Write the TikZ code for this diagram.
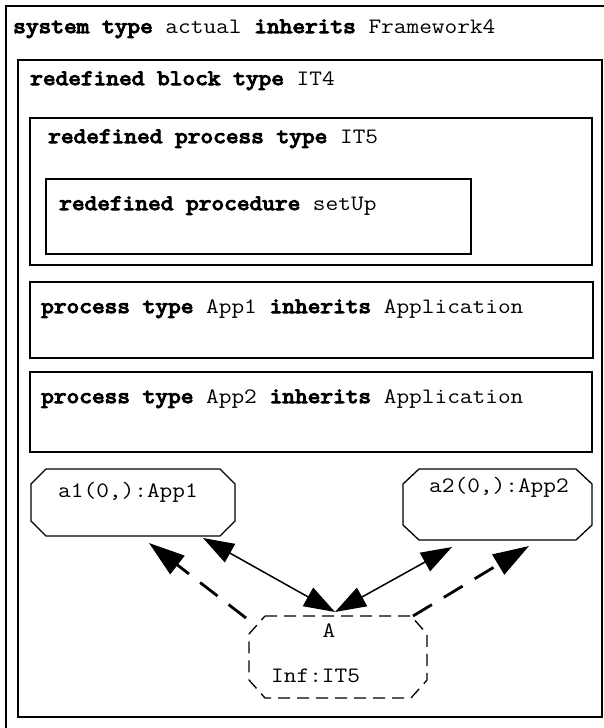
\documentclass[tikz,border=0pt]{standalone}
\usepackage{fontspec}
\newfontfamily\cour{Latin Modern Mono}[FakeStretch=1.12, BoldFont={Latin Modern Mono}, BoldFeatures={FakeBold=5}]
\usetikzlibrary{arrows.meta}
\begin{document}
\begin{tikzpicture}[x=1pt,y=-1pt,
  txt/.style={anchor=base west, inner sep=0pt, font=\cour\fontsize{22}{25}\selectfont},
  ctxt/.style={anchor=base, inner sep=0pt, font=\cour\fontsize{22}{25}\selectfont},
  boxline/.style={draw=black, line width=1.3pt},
  dbox/.style={draw=black, line width=1.3pt, dash pattern=on 12pt off 7pt},
  solidarrow/.style={line width=1.5pt, {Triangle[length=31pt,width=21pt]}-{Triangle[length=31pt,width=21pt]}},
  dasharrow/.style={line width=2.8pt, dash pattern=on 22pt off 14pt, -{Triangle[length=36pt,width=23pt]}}
]
\useasboundingbox (0,0) rectangle (604,728);
% outer system frame (clipped at right and bottom)
\draw[boxline] (6,740) -- (6,6) -- (620,6);
\node[txt] (sys) at (13,33) {\textbf{system type} actual \textbf{inherits} Framework4};
% block IT4
\draw[boxline] (18,60) rectangle (602,717);
\node[txt] (blk) at (30,85) {\textbf{redefined block type} IT4};
% process type IT5
\draw[boxline] (30,118) rectangle (592,265);
\node[txt] (pit5) at (48,143) {\textbf{redefined process type} IT5};
% procedure
\draw[boxline] (46,179) rectangle (471,254);
\node[txt] (proc) at (59,210) {\textbf{redefined procedure} setUp};
% App1 / App2 types
\draw[boxline] (30,282) rectangle (593,358);
\node[txt] (app1t) at (41,313) {\textbf{process type} App1 \textbf{inherits} Application};
\draw[boxline] (30,372) rectangle (592,452);
\node[txt] (app2t) at (41,403) {\textbf{process type} App2 \textbf{inherits} Application};
% instance a1
\draw[boxline] (46,469) -- (220,469) -- (235,484) -- (235,521) -- (220,536) -- (46,536) -- (31,521) -- (31,484) -- cycle;
\node[txt] (a1) at (58,497) {a1(0,):App1};
% instance a2
\draw[boxline] (419,469) -- (576,469) -- (592,484) -- (592,525) -- (576,540) -- (419,540) -- (403,525) -- (403,484) -- cycle;
\node[txt] (a2) at (429,492) {a2(0,):App2};
% instance Inf (dashed)
\draw[dbox] (265,616) -- (411,616) -- (427,634) -- (427,680) -- (411,698) -- (265,698) -- (249,680) -- (249,634) -- cycle;
\node[ctxt] (A) at (329,637) {A};
\node[txt] (inf) at (271,682) {Inf:IT5};
% connector end points
\coordinate (a1end) at (203,538);
\coordinate (a2end) at (452,547);
\coordinate (Atip) at (335,612);
\coordinate (dl0) at (246,618);
\coordinate (dl1) at (149,543);
\coordinate (dr0) at (413,616);
\coordinate (dr1) at (529,546);
\draw[solidarrow] (a1end) -- (Atip);
\draw[solidarrow] (a2end) -- (Atip);
\draw[dasharrow] (dl0) -- (dl1);
\draw[dasharrow] (dr0) -- (dr1);
\end{tikzpicture}
\end{document}
